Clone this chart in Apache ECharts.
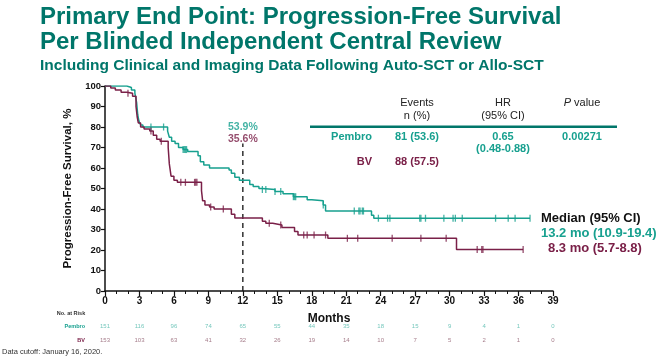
<!DOCTYPE html>
<html><head><meta charset="utf-8">
<script src="https://cdn.jsdelivr.net/npm/echarts@6/dist/echarts.min.js"></script>
<style>html,body{margin:0;padding:0;background:#fff}#c{width:666px;height:358px}</style>
</head><body><div id="c"></div>
<script>
// ---- data ----
const xTicks = [0,3,6,9,12,15,18,21,24,27,30,33,36,39];
const pembroCurve = [[0,100],[1.9,99.3],[2.3,98],[2.6,96.5],[2.75,92],[2.85,86],[2.95,83],[3.1,81],[3.3,80],[5.45,78],[5.6,75],[5.8,73],[6.1,72],[6.4,70],[6.8,69],[7.2,68],[8.1,66],[8.3,63],[8.6,61.5],[9.1,60],[10.8,59],[11.0,57.5],[11.3,55.5],[11.7,54],[12.6,52],[12.9,51],[13.4,50],[13.7,49.5],[14.8,48.5],[15.5,47.5],[16.4,46],[17.6,44.5],[18.0,44],[19.0,42],[19.2,39],[23.2,37],[23.4,35.5],[37,35.5]];
const bvCurve = [[0,100],[0.5,99],[0.9,98],[1.4,97],[1.9,96.5],[2.4,95],[2.7,90],[2.8,85],[2.9,82],[3.1,80],[3.4,79],[3.9,78],[4.2,76],[4.5,74],[4.8,73],[5.5,70],[5.6,62],[5.75,56],[6.0,54],[6.3,53],[8.4,49],[8.5,44],[8.7,42],[9.1,41],[9.5,40],[11.0,37.5],[11.3,35.6],[13.7,34],[14.0,33],[14.6,32.2],[15.4,31],[16.5,29],[16.8,27.3],[19.4,25.7],[30.6,20.3],[36.4,20.3]];
const pembroCensor = [4.0,5.1,6.8,6.9,7.0,7.1,13.7,14.0,14.8,15.3,16.4,16.5,16.6,19.0,21.7,22.1,22.2,22.4,22.5,23.8,24.6,24.8,27.4,27.5,27.9,29.5,30.3,30.5,31.1,34,35.1,35.7,37];
const bvCensor = [2.0,4.0,4.9,6.6,7.0,7.8,7.9,8.0,9.2,10.3,14.3,15.3,17.3,17.6,18.2,19.2,21.1,22,25,27.5,29.7,32.4,32.8,32.9,36.4];
const landmarkMonth = 12;
const landmarkTop = 72;
const landmarkLabels = [['53.9%',80],['35.6%',74]];
const riskRows = ['Pembro','BV'];
const pembroRisk = [151,116,96,74,65,55,44,35,18,15,9,4,1,0];
const bvRisk = [153,103,63,41,32,26,19,14,10,7,5,2,1,0];

// ---- colours ----
const TEAL = '#17a08f', MAROON = '#7a2048', TITLE = '#00766a';

function stepAt(curve, t){ let v = curve[0][1]; for (const p of curve){ if (p[0] <= t) v = p[1]; } return v; }
const censorPts = (curve, ts) => ts.map(t => [t, stepAt(curve, t)]);

const chart = echarts.init(document.getElementById('c'), null, {renderer:'canvas'});
const F = 'Liberation Sans, Arial, sans-serif';
const txt = (x,y,text,o) => ({type:'text', x, y, style:Object.assign({text, font:'11px '+F, fill:'#222', textAlign:'center', textVerticalAlign:'middle'}, o||{})});

chart.setOption({
  backgroundColor:'#fff',
  animation:false,
  grid:[
    {left:105, top:86, width:448, height:205},
    {left:105, top:320, width:448, height:27}
  ],
  xAxis:[
    {gridIndex:0, type:'value', min:0, max:39, interval:3,
     name:'Months', nameLocation:'middle', nameGap:22,
     nameTextStyle:{fontFamily:F, fontWeight:'bold', fontSize:12, color:'#111'},
     axisLine:{lineStyle:{color:'#111', width:1.5}},
     axisTick:{length:5, lineStyle:{color:'#111', width:1.2}},
     minorTick:{show:true, splitNumber:3, length:3, lineStyle:{color:'#111', width:1}},
     splitLine:{show:false},
     axisLabel:{fontFamily:F, fontWeight:'bold', fontSize:10, color:'#111', margin:5}},
    {gridIndex:1, type:'value', min:0, max:39, interval:3, show:false}
  ],
  yAxis:[
    {gridIndex:0, type:'value', min:0, max:100, interval:10,
     name:'Progression-Free Survival, %', nameLocation:'middle', nameGap:31, nameRotate:90,
     nameTextStyle:{fontFamily:F, fontWeight:'bold', fontSize:11.5, color:'#111'},
     axisLine:{show:true, lineStyle:{color:'#111', width:1.5}},
     axisTick:{show:true, length:4, lineStyle:{color:'#111', width:1.2}},
     splitLine:{show:false},
     axisLabel:{fontFamily:F, fontWeight:'bold', fontSize:9.5, color:'#111', margin:4}},
    {gridIndex:1, type:'category', data:riskRows, inverse:true,
     axisLine:{show:false}, axisTick:{show:false},
     axisLabel:{margin:20, fontFamily:F, fontWeight:'bold', fontSize:5.5,
       formatter: v => v === 'Pembro' ? '{p|'+v+'}' : '{b|'+v+'}',
       rich:{p:{color:TEAL, fontSize:5.5, fontWeight:'bold', fontFamily:F}, b:{color:MAROON, fontSize:5.5, fontWeight:'bold', fontFamily:F}}}}
  ],
  series:[
    {type:'line', name:'Pembro', data:pembroCurve, step:'end', symbol:'none', lineStyle:{color:TEAL, width:1.5}, z:3},
    {type:'line', name:'BV', data:bvCurve, step:'end', symbol:'none', lineStyle:{color:MAROON, width:1.5}, z:3},
    {type:'scatter', data:censorPts(pembroCurve, pembroCensor), symbol:'rect', symbolSize:[1.3,7], itemStyle:{color:TEAL}, z:4},
    {type:'scatter', data:censorPts(bvCurve, bvCensor), symbol:'rect', symbolSize:[1.3,7], itemStyle:{color:MAROON}, z:4},
    {type:'line', data:[[landmarkMonth,0],[landmarkMonth,landmarkTop]], symbol:'none', lineStyle:{color:'#111', width:1.3, type:[5,4]}, z:2},
    {type:'scatter', data:landmarkLabels.map(l=>[landmarkMonth,l[1]]), symbolSize:1, itemStyle:{color:'transparent'},
     label:{show:true, position:'inside', fontFamily:F, fontWeight:'bold', fontSize:10.5,
       formatter:p => '{'+(p.dataIndex===0?'p':'b')+'|'+landmarkLabels[p.dataIndex][0]+'}',
       rich:{p:{color:TEAL, fontWeight:'bold', fontSize:10.5, fontFamily:F}, b:{color:MAROON, fontWeight:'bold', fontSize:10.5, fontFamily:F}}}},
    {type:'scatter', xAxisIndex:1, yAxisIndex:1, data:xTicks.map((x,i)=>[x,'Pembro',pembroRisk[i]]), symbolSize:1, itemStyle:{color:'transparent'},
     label:{show:true, position:'inside', formatter:p=>String(p.data[2]), fontFamily:F, fontSize:6, color:'#4fb8aa'}},
    {type:'scatter', xAxisIndex:1, yAxisIndex:1, data:xTicks.map((x,i)=>[x,'BV',bvRisk[i]]), symbolSize:1, itemStyle:{color:'transparent'},
     label:{show:true, position:'inside', formatter:p=>String(p.data[2]), fontFamily:F, fontSize:6, color:'#8d5a6c'}}
  ],
  graphic:[
    txt(40,17,'Primary End Point: Progression-Free Survival',{font:'bold 24px '+F, fill:TITLE, textAlign:'left'}),
    txt(40,42,'Per Blinded Independent Central Review',{font:'bold 24px '+F, fill:TITLE, textAlign:'left'}),
    txt(40,66,'Including Clinical and Imaging Data Following Auto-SCT or Allo-SCT',{font:'bold 15.5px '+F, fill:TITLE, textAlign:'left'}),
    txt(417,103,'Events'), txt(417,116,'n (%)'),
    txt(503,103,'HR'), txt(503,116,'(95% CI)'),
    {type:'text', x:582, y:103, style:{text:'{i|P} value', textAlign:'center', textVerticalAlign:'middle', font:'11px '+F, fill:'#222', rich:{i:{fontStyle:'italic', font:'italic 11px '+F, fill:'#222'}}}},
    {type:'rect', shape:{x:310, y:125.5, width:307, height:2.6}, style:{fill:'#00766a'}},
    txt(372,137,'Pembro',{font:'bold 11px '+F, fill:TEAL, textAlign:'right'}),
    txt(417,137,'81 (53.6)',{font:'bold 11px '+F, fill:TEAL}),
    txt(503,137,'0.65',{font:'bold 11px '+F, fill:TEAL}),
    txt(503,149,'(0.48-0.88)',{font:'bold 11px '+F, fill:TEAL}),
    txt(582,137,'0.00271',{font:'bold 11px '+F, fill:TEAL}),
    txt(372,162,'BV',{font:'bold 11px '+F, fill:MAROON, textAlign:'right'}),
    txt(417,162,'88 (57.5)',{font:'bold 11px '+F, fill:MAROON}),
    txt(541,218,'Median (95% CI)',{font:'bold 13px '+F, fill:'#111', textAlign:'left'}),
    txt(541,233,'13.2 mo (10.9-19.4)',{font:'bold 13px '+F, fill:TEAL, textAlign:'left'}),
    txt(548,248,'8.3 mo (5.7-8.8)',{font:'bold 13px '+F, fill:MAROON, textAlign:'left'}),
    txt(71,313,'No. at Risk',{font:'bold 5.5px '+F, fill:'#333'}),
    txt(2,352,'Data cutoff: January 16, 2020.',{font:'7.5px '+F, fill:'#333', textAlign:'left'})
  ]
});
</script></body></html>
